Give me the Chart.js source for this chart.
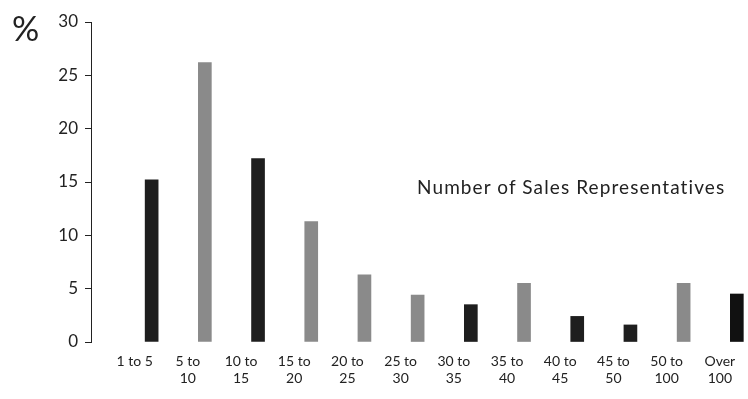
<!DOCTYPE html>
<html>
<head>
<meta charset="utf-8">
<title>Number of Sales Representatives</title>
<script src="https://cdn.jsdelivr.net/npm/chart.js@4.4.1/dist/chart.umd.min.js"></script>
<style>
  html, body { margin: 0; padding: 0; background: #fff; }
  #wrap { position: relative; width: 748px; height: 399px; }
  #pct { position: absolute; left: 12px; top: 11px; font: 34px Lato, sans-serif; color: #222; line-height: 1; }
  #note { position: absolute; left: 417px; top: 177px; font: 19px Lato, sans-serif; letter-spacing: 1.1px; color: #222; line-height: 1; }
</style>
</head>
<body>
<div id="wrap">
  <canvas id="chart" width="748" height="399"></canvas>
  <div id="pct">%</div>
  <div id="note">Number of Sales Representatives</div>
</div>
<script>
// group sizes (number of reps) shown along the bottom
const categories = [
  ["1 to 5"], ["5 to", "10"], ["10 to", "15"], ["15 to", "20"],
  ["20 to", "25"], ["25 to", "30"], ["30 to", "35"], ["35 to", "40"],
  ["40 to", "45"], ["45 to", "50"], ["50 to", "100"], ["Over", "100"]
];

// share of companies, %
const shares = [15.2, 26.2, 17.2, 11.3, 6.3, 4.4, 3.5, 5.5, 2.4, 1.6, 5.5, 4.5];

const yTicks = [0, 5, 10, 15, 20, 25, 30];

const DARK = "#1e1e1e";
const GREY = "#8a8a8a";
const barColors = [DARK, GREY, DARK, GREY, GREY, GREY, DARK, GREY, DARK, DARK, GREY, "#111"];

const ctx = document.getElementById("chart").getContext("2d");

new Chart(ctx, {
  type: "bar",
  data: {
    datasets: [{
      data: shares.map((v, i) => ({ x: i, y: v })),
      backgroundColor: barColors,
      borderWidth: 0,
      barThickness: 13
    }]
  },
  options: {
    responsive: false,
    animation: false,
    layout: { padding: { top: 22, right: 0, bottom: 0, left: 0 } },
    plugins: {
      legend: { display: false },
      tooltip: { enabled: false }
    },
    scales: {
      x: {
        type: "linear",
        offset: false,
        min: -1.14,
        max: 11.21,
        grid: { display: false, drawTicks: false },
        border: { display: false },
        afterBuildTicks: function (axis) {
          axis.ticks = categories.map((c, i) => ({ value: i }));
        },
        afterFit: function (scale) {
          scale.height = 57;
          scale.paddingLeft = 0;
          scale.paddingRight = 0;
        },
        ticks: {
          autoSkip: false,
          maxRotation: 0,
          labelOffset: -17,
          padding: 11,
          color: "#222",
          font: { family: "Lato", size: 14 },
          callback: function (value) {
            return categories[value];
          }
        }
      },
      y: {
        min: 0,
        max: 30,
        afterBuildTicks: function (axis) {
          axis.ticks = yTicks.map(v => ({ value: v }));
        },
        afterFit: function (scale) {
          scale.width = 91;
        },
        grid: {
          drawOnChartArea: false,
          drawTicks: true,
          tickLength: 6,
          color: "#222"
        },
        border: { display: true, color: "#222", width: 1 },
        ticks: {
          padding: 7,
          color: "#222",
          font: { family: "Lato", size: 17 }
        }
      }
    }
  }
});
</script>
</body>
</html>
